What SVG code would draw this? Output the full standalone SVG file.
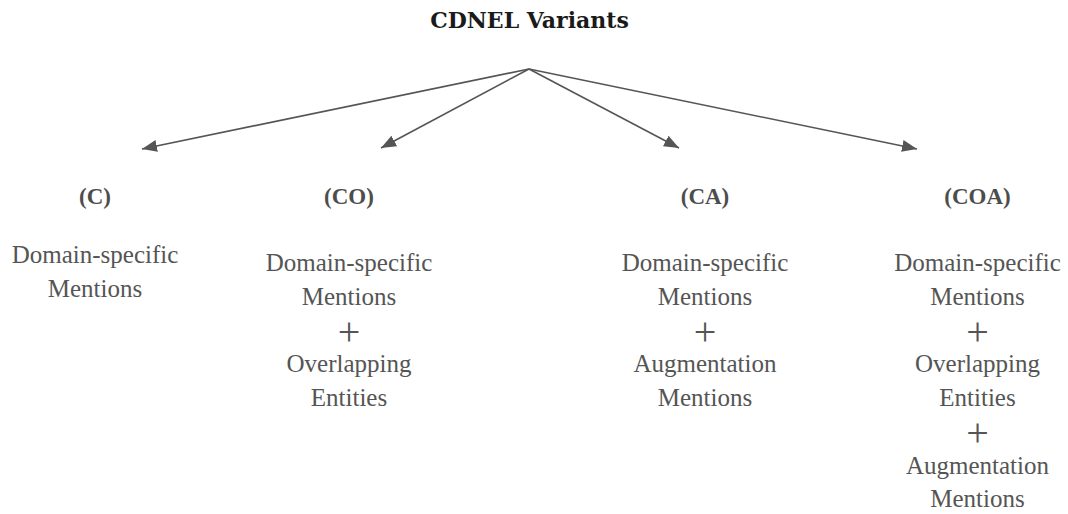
<svg xmlns="http://www.w3.org/2000/svg" width="1068" height="514" viewBox="0 0 1068 514">
  <defs>
    <marker id="ah" markerUnits="userSpaceOnUse" markerWidth="16" markerHeight="13" refX="15" refY="6" orient="auto">
      <path d="M0,0 L15,6 L0,12 z" fill="#555"/>
    </marker>
    <style>
      .title { font-family: "DejaVu Serif", "Liberation Serif", serif; font-weight: bold; font-size: 22px; fill: #1a1a1a; text-anchor: middle; }
      .hdr { font-family: "Liberation Serif", "DejaVu Serif", serif; font-weight: bold; font-size: 23px; fill: #4d4d4d; text-anchor: middle; }
      .body { font-family: "Liberation Serif", "DejaVu Serif", serif; font-size: 25px; fill: #555; text-anchor: middle; }
      .plus { font-family: "Liberation Serif", "DejaVu Serif", serif; font-size: 40px; fill: #555; text-anchor: middle; }
      .conn line { stroke: #555; stroke-width: 1.6; fill: none; marker-end: url(#ah); }
    </style>
  </defs>
  <rect width="1068" height="514" fill="#ffffff"/>

  <g id="root">
    <text class="title" x="529.5" y="28">CDNEL Variants</text>
  </g>

  <g id="connectors" class="conn">
    <line x1="529" y1="69" x2="142" y2="149"/>
    <line x1="529" y1="69" x2="381" y2="148"/>
    <line x1="529" y1="69" x2="679" y2="148"/>
    <line x1="529" y1="69" x2="917" y2="149"/>
  </g>

  <g id="node-C">
    <text class="hdr" x="95" y="204">(C)</text>
    <text class="body" x="95" y="263">Domain-specific</text>
    <text class="body" x="95" y="297">Mentions</text>
  </g>

  <g id="node-CO">
    <text class="hdr" x="349" y="204">(CO)</text>
    <text class="body" x="349" y="271">Domain-specific</text>
    <text class="body" x="349" y="305">Mentions</text>
    <text class="plus" x="349" y="345">+</text>
    <text class="body" x="349" y="372">Overlapping</text>
    <text class="body" x="349" y="406">Entities</text>
  </g>

  <g id="node-CA">
    <text class="hdr" x="705" y="204">(CA)</text>
    <text class="body" x="705" y="271">Domain-specific</text>
    <text class="body" x="705" y="305">Mentions</text>
    <text class="plus" x="705" y="345">+</text>
    <text class="body" x="705" y="372">Augmentation</text>
    <text class="body" x="705" y="406">Mentions</text>
  </g>

  <g id="node-COA">
    <text class="hdr" x="977.5" y="204">(COA)</text>
    <text class="body" x="977.5" y="271">Domain-specific</text>
    <text class="body" x="977.5" y="305">Mentions</text>
    <text class="plus" x="977.5" y="345">+</text>
    <text class="body" x="977.5" y="372">Overlapping</text>
    <text class="body" x="977.5" y="406">Entities</text>
    <text class="plus" x="977.5" y="446">+</text>
    <text class="body" x="977.5" y="474">Augmentation</text>
    <text class="body" x="977.5" y="507">Mentions</text>
  </g>
</svg>
